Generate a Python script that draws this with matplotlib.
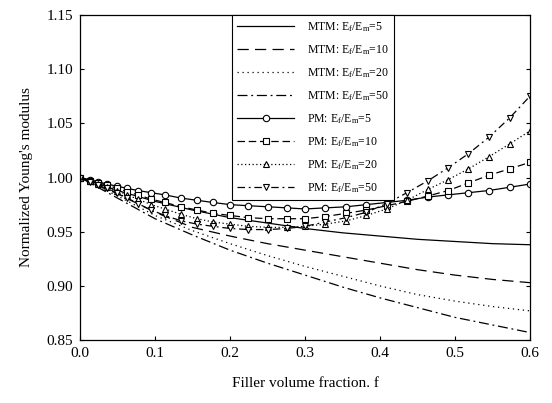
import matplotlib
matplotlib.use("Agg")
from matplotlib import pyplot as plt

plt.rcParams['font.family'] = ['Liberation Serif', 'DejaVu Serif']
plt.rcParams['mathtext.fontset'] = 'custom'
plt.rcParams['mathtext.rm'] = 'Liberation Serif'
plt.rcParams['mathtext.it'] = 'Liberation Serif'

# MTM curves (smooth lines, no markers)
f_mtm = [0.0, 0.05, 0.1, 0.15, 0.2, 0.25, 0.3, 0.35, 0.4, 0.45, 0.5, 0.55, 0.6]
mtm_5 = [1.000, 0.988, 0.978, 0.970, 0.963, 0.958, 0.953, 0.949, 0.946, 0.943, 0.941, 0.939, 0.938]
mtm_10 = [1.000, 0.985, 0.968, 0.954, 0.946, 0.939, 0.933, 0.927, 0.921, 0.915, 0.910, 0.906, 0.903]
mtm_20 = [1.000, 0.983, 0.965, 0.951, 0.939, 0.928, 0.918, 0.909, 0.900, 0.892, 0.886, 0.881, 0.877]
mtm_50 = [1.000, 0.981, 0.962, 0.947, 0.933, 0.921, 0.910, 0.899, 0.889, 0.880, 0.871, 0.864, 0.857]

# PM curves (with markers)
f_pm = [0.0, 0.013, 0.024, 0.036, 0.049, 0.063, 0.077, 0.095, 0.113, 0.135, 0.156, 0.177, 0.2, 0.224,
        0.251, 0.276, 0.3, 0.327, 0.355, 0.382, 0.409, 0.436, 0.464, 0.491, 0.518, 0.545, 0.573, 0.6]
pm_5 = [1.000, 0.998, 0.996, 0.994, 0.992, 0.990, 0.988, 0.986, 0.984, 0.981, 0.979, 0.977, 0.975, 0.974,
        0.973, 0.972, 0.971, 0.972, 0.973, 0.975, 0.977, 0.979, 0.982, 0.984, 0.986, 0.988, 0.991, 0.994]
pm_10 = [1.000, 0.997, 0.995, 0.993, 0.990, 0.987, 0.984, 0.980, 0.977, 0.973, 0.970, 0.967, 0.965, 0.963,
         0.962, 0.962, 0.962, 0.964, 0.967, 0.970, 0.974, 0.978, 0.983, 0.988, 0.995, 1.002, 1.008, 1.014]
pm_20 = [1.000, 0.997, 0.994, 0.991, 0.988, 0.984, 0.980, 0.975, 0.971, 0.966, 0.962, 0.959, 0.957, 0.955,
         0.954, 0.954, 0.955, 0.957, 0.960, 0.965, 0.971, 0.979, 0.989, 0.998, 1.008, 1.019, 1.031, 1.043]
pm_50 = [1.000, 0.996, 0.993, 0.990, 0.986, 0.981, 0.976, 0.970, 0.965, 0.960, 0.957, 0.955, 0.953, 0.952,
         0.952, 0.953, 0.955, 0.959, 0.963, 0.968, 0.976, 0.986, 0.997, 1.009, 1.022, 1.037, 1.055, 1.075]

x_ticks = [0.0, 0.1, 0.2, 0.3, 0.4, 0.5, 0.6]
y_ticks = [0.85, 0.90, 0.95, 1.00, 1.05, 1.10, 1.15]

fig = plt.figure(figsize=(5.52, 4.03), dpi=100)
ax = fig.add_axes([0.145, 0.156, 0.815, 0.807])

lw = 0.9
ax.plot(f_mtm, mtm_5, '-', color='black', lw=lw, label=r'MTM: E$_f$/E$_m$=5')
ax.plot(f_mtm, mtm_10, color='black', lw=lw, dashes=(9, 5), label=r'MTM: E$_f$/E$_m$=10')
ax.plot(f_mtm, mtm_20, color='black', lw=lw, dashes=(1, 3), label=r'MTM: E$_f$/E$_m$=20')
ax.plot(f_mtm, mtm_50, color='black', lw=lw, dashes=(8, 3, 1.5, 3), label=r'MTM: E$_f$/E$_m$=50')

mk = dict(color='black', lw=lw, markersize=4.6, markerfacecolor='white', markeredgewidth=0.8)
ax.plot(f_pm, pm_5, '-', marker='o', label=r'PM: E$_f$/E$_m$=5', **mk)
ax.plot(f_pm, pm_10, marker='s', dashes=(6, 3), label=r'PM: E$_f$/E$_m$=10', **mk)
ax.plot(f_pm, pm_20, marker='^', dashes=(1, 2), label=r'PM: E$_f$/E$_m$=20', **mk)
ax.plot(f_pm, pm_50, marker='v', dashes=(6, 3, 1.5, 3), label=r'PM: E$_f$/E$_m$=50', **mk)

ax.set_xlim(0.0, 0.6)
ax.set_ylim(0.85, 1.15)
ax.set_xticks(x_ticks)
ax.set_yticks(y_ticks)
ax.set_xticklabels(['%.1f' % v for v in x_ticks])
ax.set_yticklabels(['%.2f' % v for v in y_ticks])
ax.tick_params(direction='in', length=3, width=0.8, labelsize=11, right=True, pad=5)
for s in ax.spines.values():
    s.set_linewidth(0.9)

ax.set_xlabel('Filler volume fraction. f', fontsize=11, labelpad=12)
ax.set_ylabel("Normalized Young's modulus", fontsize=11, labelpad=10)

leg = ax.legend(loc='upper left', bbox_to_anchor=(0.338, 1.0), borderaxespad=0, fontsize=8.5,
                frameon=True, fancybox=False, edgecolor='black', framealpha=1, handlelength=4.8,
                labelspacing=0.78, borderpad=0.45, handletextpad=1.1, markerfirst=True)
leg.get_frame().set_linewidth(0.8)

plt.savefig('out.png', dpi=100)
